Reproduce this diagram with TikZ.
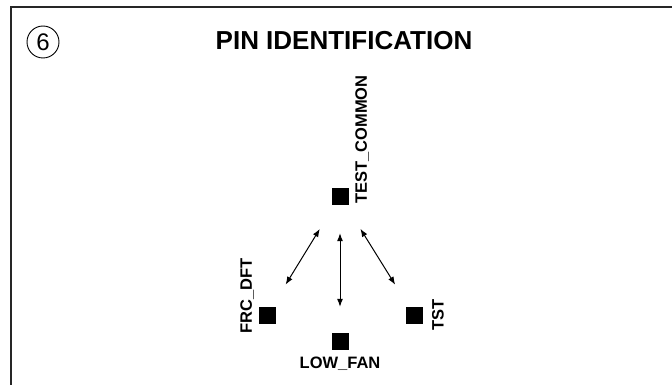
\documentclass[tikz,border=0pt]{standalone}
\usepackage{fontspec}
\setmainfont{Liberation Sans}
\usepackage{tikz}
\usetikzlibrary{positioning, arrows.meta}

\tikzset{
	pinsq/.style={draw, fill=black, minimum size=16pt, inner sep=0pt},
	pinlbl/.style={font=\fontsize{16.5}{16.5}\selectfont\bfseries, inner sep=0pt},
	pinarrow/.style={{Latex[length=8pt,width=6pt]}-{Latex[length=8pt,width=6pt]}, line width=1pt, shorten <=29pt, shorten >=26pt}
}

\begin{document}
\begin{tikzpicture}[x=1pt, y=-1pt]
			\useasboundingbox (0,0) rectangle (672,385);
			
			%% Moldura
			\draw [line width=2pt, color=black!85] (11,385)--(11,7)--(672,7);
			
			%% Numero
			\draw [line width=0.9pt] (43,42) circle (16);
			\node (num) at (43,42) {\fontsize{24}{24}\selectfont 6};
			
			%% Titulo
			\node (titulo) at (344,41) {\fontsize{26}{26}\selectfont\bfseries PIN IDENTIFICATION};
			
			%% Pinos
			\node [pinsq] (tc) at (340,196) {};
			\node [pinsq] (frc) at (267,315) {};
			\node [pinsq] (low) at (340,341) {};
			\node [pinsq] (tst) at (414,315) {};
			
			%% Nomes
			\node [pinlbl, rotate=90, anchor=west] (tclbl) at (362,204) {TEST\_COMMON};
			\node [pinlbl, rotate=90] (frclbl) at (247,296) {FRC\_DFT};
			\node [pinlbl, below=8pt of low] (lowlbl) {LOW\_FAN};
			\node [pinlbl, rotate=90] (tstlbl) at (438,315) {TST};
			
			%% Ligacoes
			\draw [pinarrow] (tc)--(frc);
			\draw [pinarrow] (tc)--(low);
			\draw [pinarrow] (tc)--(tst);
		\end{tikzpicture}
\end{document}
